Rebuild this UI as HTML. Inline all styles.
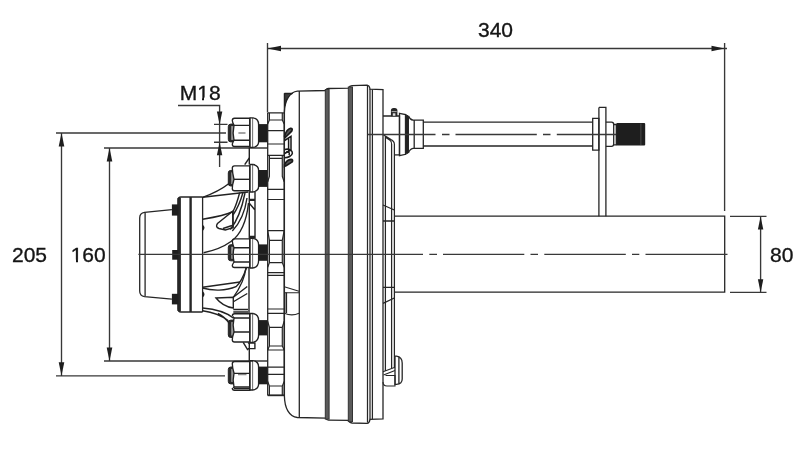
<!DOCTYPE html>
<html><head><meta charset="utf-8">
<style>
html,body{margin:0;padding:0;background:#fff;width:800px;height:450px;overflow:hidden}
svg{display:block;filter:grayscale(1)}
text{font-family:"Liberation Sans",sans-serif;fill:#151515;stroke:#151515;stroke-width:0.35px}
</style></head><body>
<svg width="800" height="450" viewBox="0 0 800 450">
<defs>
  </defs>
<rect width="800" height="450" fill="#fff"/>

<g id="dims" stroke="#383838" stroke-width="1.35" fill="none">
  <path d="M267.5 43V112.5M724.6 43V211M267.5 48.5H727"/>
  <path d="M56 133H226M56 375.8H225M61.5 133V375.8"/>
  <path d="M104 148H267.5M104 361H267.7M109.5 148V361"/>
  <path d="M730 216.4H766.5M730 292.4H766.5M760.6 216.4V292.4"/>
  <path d="M178 105.5H219.6V167M214 124.4H227.5M214 142.2H227.5"/>
</g>
<g id="arrows" fill="#1e1e1e" stroke="none">
  <path d="M267.5 48.5L281 45.8L281 51.2Z"/>
  <path d="M724.6 48.5L711.5 45.8L711.5 51.2Z"/>
  <path d="M61.5 133L58.7 146.5L64.3 146.5Z"/>
  <path d="M61.5 375.8L58.7 362.3L64.3 362.3Z"/>
  <path d="M109.5 148L106.7 161.5L112.3 161.5Z"/>
  <path d="M109.5 361L106.7 347.5L112.3 347.5Z"/>
  <path d="M760.6 216.4L757.9 229.5L763.3 229.5Z"/>
  <path d="M760.6 292.4L757.9 279.3L763.3 279.3Z"/>
  <path d="M219.6 124.4L216.9 111.5L222.3 111.5Z"/>
  <path d="M219.6 142.2L216.9 155.2L222.3 155.2Z"/>
</g>
<g id="texts" font-size="21">
  <text x="478" y="37.2">340</text>
  <text x="12" y="262">205</text>
  <text x="70.7" y="262">160</text>
  <text x="770" y="262.3">80</text>
  <text x="179.8" y="99.9">M18</text>
</g>
<g fill="#fff" stroke="none">
  <rect x="197" y="97.6" width="5" height="3.6"/>
  <rect x="204" y="97.6" width="5.5" height="3.6"/>
  <rect x="70.5" y="259.6" width="5.5" height="3.6"/>
  <rect x="78" y="259.6" width="5.5" height="3.6"/>
</g>

<g id="tube" stroke="#262626" stroke-width="1.3" fill="none">
  <path d="M394.5 216.2H724.7V292.2H394.5"/>
</g>

<g id="drum" stroke="#262626" stroke-width="1.3" fill="none">
  <path d="M284.4 93.3 V396 M284.4 93.3 H292.5"/>
  <path d="M284.4 112 C284.8 100 290 92 297.4 91.1 L325.7 90.5 Q326.5 88.5 328.4 88.5 L348.6 88.2 Q349.5 85.8 352 85.6 L367 85.2 Q369.5 85.5 370 89.2 L383 89.7 V116"/>
  <path d="M284.4 396 C284.6 408 289 416.6 297.4 417.5 L325.7 418.1 Q326.5 420.1 328.4 420.1 L348.6 420.4 Q349.5 422.8 352 423 L367 423.4 Q369.5 423.1 370 419.4 L383 418.9 V386"/>
  <path d="M284.6 93.6 H292.5 C289 94.8 286 98 285 105.5 Z" fill="#3a3a3a" stroke="#1e1e1e" stroke-width="1"/>
  <path d="M299.3 91.1 V417.5"/>
  <path d="M367.5 86 V422.6 M370 89 V419.6 M372.4 89.5 V419.1" stroke-width="1.25"/>
  <path d="M383 116 V386"/>
  <path d="M385.4 136 V371 M391.6 144 V368 M394.4 144 V367.5" stroke-width="1.25"/>
  <path d="M383 134.5 L391 139.5 Q394.4 141.5 394.4 144 M385.4 137.3 L390 140.3 Q391.6 141.5 391.6 144" stroke-width="1.1"/>
  <path d="M394.4 154.9 H399.5"/>
  <path d="M383 205 L394.3 210 M383 221 H394.3 M383 287.4 H394.3 M383 303.3 L394.3 298"/>
  <!-- bottom bolt -->
  <path d="M395 356.1 H396.5 Q402.2 357 402.2 363 V379 Q402.2 384 396.5 384.4 H395 Z M398.9 356.6 V384"/>
  <path d="M385.5 375.5 H395 V386 H387 Q383 386 383 382 M383 371.7 L395 367.2 M383.5 375 L395 370.5" stroke-width="1.1"/>
</g>
<g id="bands" fill="#5a5a5a" stroke="#333" stroke-width="1">
  <rect x="325.3" y="89.5" width="3.8" height="329.6"/>
  <rect x="348.3" y="87" width="4.2" height="334.6"/>
</g>

<g id="flange" stroke="#262626" stroke-width="1.3" fill="none">
  <path d="M267.7 112.9 V395.5 M284.2 112.9 V395.5"/>
  <path d="M267.7 112.9 H284.2 M269.4 112.9 V120 H282.3 V112.9 M269.4 120 L267.7 124 M282.3 120 L284.2 124 M267.7 130.7 H284.2 M267.7 144 H284.2" stroke-width="1.2"/>
  <path d="M267.7 155.3 H284.2 M269.4 155.3 V176.3 L267.7 181.8 M282.3 155.3 V176.3 L284.2 181.8 M269.4 158.3 H282.3 M267.7 189.4 H284.2 M267.7 199.5 H284.2" stroke-width="1.2"/>
  <path d="M267.7 230.7 H284.2 M267.7 230.7 L269.4 240.3 V262.7 L267.7 267.3 M284.2 230.7 L282.3 240.3 V262.7 L284.2 267.3 M269.4 240.3 H282.3 M269.4 262.7 H282.3 M267.7 272.7 H284.2 M267.7 275.3 H284.2" stroke-width="1.2"/>
  <path d="M267.7 309 H284.2 M267.7 313.3 H284.2 M267.7 321.3 L269.4 327.3 V346 H282.3 V327.3 L284.2 321.3 M269.4 327.3 H282.3 M267.7 350 H284.2 M269.4 346 L267.7 350 M282.3 346 L284.2 350" stroke-width="1.2"/>
  <path d="M267.7 367.2 H284.2 M267.7 374.4 H284.2 M267.7 381.5 L269.4 386 V395.3 M282.3 395.3 V386 L284.2 381.5 M269.4 386 H282.3" stroke-width="1.2"/>
  <path d="M267.7 395.3 H284.2" stroke-width="1.8"/>
  <path d="M284.3 286.7 L299 291.3 M284.3 292.7 H299 M284.3 313.3 Q292 316.5 299 313.3" stroke-width="1.1"/>
  <path d="M286.3 292.5 V313" stroke-width="1.6"/>
</g>
<g id="clips" stroke="#1a1a1a" stroke-width="1.7" fill="none">
  <path d="M284.6 136 C286 131.5 288.5 128.8 290.5 128.3 Q293 128.2 291.8 131 C290.2 133 287.5 134.8 285 137.8 Z" fill="#555"/>
  <path d="M284.6 140.5 L291 136.3 V150 L284.6 153.5 M288.6 138 V151.5" stroke-width="1.5"/>
  <path d="M284.8 149.5 C289 148.3 292.6 150.3 292.4 153.2 C292.1 156 288 157.6 284.8 157.8 M286.4 151.8 C288.8 151.4 290 153 289 155.2" stroke-width="1.5"/>
  <path d="M284.6 164.5 C286 161.8 289 159.6 291 159.4 Q293.4 159.5 292.2 161.9 C290.4 163.4 287 164.8 284.6 166.4 Z" fill="#555"/>
</g>

<g id="nuts" stroke="#222" stroke-width="1.35" fill="none">
  <path d="M234.2 124.1 H230.8 Q228.3 124.1 228.3 126.6 V139.4 Q228.3 141.9 230.8 141.9 H234.2 Z" fill="#2a2a2a" stroke-width="1"/>
  <rect x="231.2" y="126.1" width="2.8" height="13.80" fill="#9a9a9a" stroke="none"/>
  <path d="M249.8 118.2 H234.5 Q232.3 118.2 232.3 120.5 Q232.3 121.80000000000001 234 125.4 Q232.3 132.8 234 140.2 Q232.3 143.35 232.3 144.2 Q232.3 146.5 234.5 146.5 H249.8 Z" fill="#fff"/>
  <path d="M234 125.4 H249.8 M234 140.2 H249.8"/>
  <path d="M249.8 117.8 V147.4 M253.1 117.8 V147.4 M249.8 117.8 H253.1 M249.8 147.4 H253.1"/>
  <path d="M253.1 117.8 Q258.6 118.8 258.6 124.39999999999999 V142.0 Q258.6 146.4 253.1 147.4" fill="#fff"/>
  <rect x="258.6" y="124.1" width="8.7" height="18.20" fill="#1e1e1e" stroke="none"/>
  <path d="M234.2 170.4 H230.8 Q228.3 170.4 228.3 172.9 V183.5 Q228.3 186.0 230.8 186.0 H234.2 Z" fill="#2a2a2a" stroke-width="1"/>
  <rect x="231.2" y="172.4" width="2.8" height="11.60" fill="#9a9a9a" stroke="none"/>
  <path d="M249.8 165.8 H234.5 Q232.3 165.8 232.3 168.10000000000002 Q232.3 172.55 234 179.3 Q232.3 185.0 232.3 188.39999999999998 Q232.3 190.7 234.5 190.7 H249.8 Z" fill="#fff"/>
  <path d="M234 179.3 H249.8"/>
  <path d="M249.8 164.5 V192.0 M253.1 164.5 V192.0 M249.8 164.5 H253.1 M249.8 192.0 H253.1"/>
  <path d="M253.1 164.5 Q258.6 165.5 258.6 170.3 V186.6 Q258.6 191.0 253.1 192.0" fill="#fff"/>
  <rect x="258.6" y="170.0" width="8.7" height="16.90" fill="#1e1e1e" stroke="none"/>
  <path d="M234.2 244.7 H230.8 Q228.3 244.7 228.3 247.2 V258.3 Q228.3 260.8 230.8 260.8 H234.2 Z" fill="#2a2a2a" stroke-width="1"/>
  <rect x="231.2" y="246.7" width="2.8" height="12.10" fill="#9a9a9a" stroke="none"/>
  <path d="M249.8 238.8 H234.5 Q232.3 238.8 232.3 241.10000000000002 Q232.3 243.25 234 247.7 Q232.3 254.85 234 262.0 Q232.3 264.75 232.3 265.2 Q232.3 267.5 234.5 267.5 H249.8 Z" fill="#fff"/>
  <path d="M234 247.7 H249.8 M234 262.0 H249.8"/>
  <path d="M249.8 238.3 V268.0 M253.1 238.3 V268.0 M249.8 238.3 H253.1 M249.8 268.0 H253.1"/>
  <path d="M253.1 238.3 Q258.6 239.3 258.6 244.70000000000002 V260.5 Q258.6 267.0 253.1 268.0" fill="#fff"/>
  <rect x="258.6" y="244.4" width="8.7" height="16.40" fill="#1e1e1e" stroke="none"/>
  <path d="M234.2 320.1 H230.8 Q228.3 320.1 228.3 322.6 V335.0 Q228.3 337.5 230.8 337.5 H234.2 Z" fill="#2a2a2a" stroke-width="1"/>
  <rect x="231.2" y="322.1" width="2.8" height="13.40" fill="#9a9a9a" stroke="none"/>
  <path d="M249.8 313.7 H234.5 Q232.3 313.7 232.3 316.0 Q232.3 315.85 234 318.0 Q232.3 325.0 234 332.0 Q232.3 337.0 232.3 339.7 Q232.3 342.0 234.5 342.0 H249.8 Z" fill="#fff"/>
  <path d="M234 318.0 H249.8 M234 332.0 H249.8"/>
  <path d="M249.8 313.5 V342.3 M253.1 313.5 V342.3 M249.8 313.5 H253.1 M249.8 342.3 H253.1"/>
  <path d="M253.1 313.5 Q258.6 314.5 258.6 320.40000000000003 V335.09999999999997 Q258.6 341.3 253.1 342.3" fill="#fff"/>
  <rect x="258.6" y="320.1" width="8.7" height="15.30" fill="#1e1e1e" stroke="none"/>
  <path d="M234.2 367.0 H230.8 Q228.3 367.0 228.3 369.5 V381.4 Q228.3 383.9 230.8 383.9 H234.2 Z" fill="#2a2a2a" stroke-width="1"/>
  <rect x="231.2" y="369.0" width="2.8" height="12.90" fill="#9a9a9a" stroke="none"/>
  <path d="M249.8 361.5 H234.5 Q232.3 361.5 232.3 363.8 Q232.3 367.4 234 373.3 Q232.3 380.1 234 386.9 Q232.3 388.54999999999995 232.3 387.9 Q232.3 390.2 234.5 390.2 H249.8 Z" fill="#fff"/>
  <path d="M234 373.3 H249.8 M234 386.9 H249.8"/>
  <path d="M249.8 360.6 V390.0 M253.1 360.6 V390.0 M249.8 360.6 H253.1 M249.8 390.0 H253.1"/>
  <path d="M253.1 360.6 Q258.6 361.6 258.6 366.90000000000003 V384.0 Q258.6 389.0 253.1 390.0" fill="#fff"/>
  <rect x="258.6" y="366.6" width="8.7" height="17.70" fill="#1e1e1e" stroke="none"/>
  <path d="M234 388.3 H249.8" stroke-width="1.8"/>
</g>

<g id="shaft" stroke="#262626" stroke-width="1.3" fill="none">
  <path d="M383 116 H399.5 V154.9"/>
  <path d="M399.5 113.3 L405.5 114.5 V154.3 L399.5 155.6 Z"/>
  <path d="M405.5 114.5 L408.5 116 V152.8 L405.5 154.3 Z" fill="#222" stroke-width="1"/>
  <path d="M408.5 116 Q410 119.8 413 120.2 H423.3 V148.4 H413 Q410 148.8 408.5 152.8 M414.2 120.2 V148.4"/>
  <path d="M423.3 122.2 H592.7 M423.3 146 H592.7"/>
  <path d="M592.7 118.3 H598.9 V150.2 H592.7 Z"/>
  <path d="M598.9 107.4 H605.9 V216.2 M598.9 107.4 V216.2"/>
  <path d="M605.9 122.2 H611.5 Q613.7 122.2 613.7 124.4 V144 Q613.7 146.3 611.5 146.3 H605.9"/>
  <path d="M613.7 124.5 H616.3 V144.8 H613.7"/>
</g>
<path d="M390.9 116.2 V110.5 Q390.9 108 393.5 108 H394.8 Q397.4 108 397.4 110.5 V116.2 Z" fill="#262626"/>
<path d="M391.6 111.6 H396.7" stroke="#bbb" stroke-width="0.9"/>
<rect x="392.8" y="113.3" width="2.6" height="2.5" fill="#ddd"/>
<rect x="616.3" y="123" width="28.9" height="22.5" rx="1" fill="#1e1e1e"/>
<path d="M640.9 123.5 V145" stroke="#555" stroke-width="0.8"/>

<g id="hubcap" stroke="#262626" stroke-width="1.3" fill="none">
  <path d="M171.9 209.6 L144.5 212.3 Q139.7 213 139.7 218 V291 Q139.7 296 144.5 296.6 L171.9 299.2"/>
  <path d="M145.1 212.5 V296.5"/>
  <path d="M202.6 197 H181 Q178 197 178 200 V309 Q178 312 181 312 H202.6" stroke-width="1.3"/>
  <path d="M179.2 198 V311" stroke-width="3.4"/>
  <path d="M190.6 197 V312" stroke-width="2.4"/>
  <path d="M202.6 197 V312"/>
</g>
<g fill="#1e1e1e">
  <rect x="171.9" y="204.4" width="6.5" height="11.2"/>
  <rect x="172.2" y="250" width="6" height="9.7"/>
  <rect x="171.9" y="293.8" width="6.5" height="10.6"/>
  <path d="M202.8 224.8 Q206.2 227.8 202.8 231 Z"/>
  <path d="M202.8 291.2 Q206.2 294.3 202.8 297.5 Z"/>
</g>

<g id="hub" stroke="#222" stroke-width="1.4" fill="none">
  <path d="M202.6 197.3 C212 194 222 189 229 183.5"/>
  <path d="M202.6 197.3 L248.3 192"/>
  <path d="M202.6 219.3 C216 217 228 214 233 211.5 C236 206 238 199 239.7 192.5"/>
  <path d="M232.7 211.3 L217.5 223.5 Q215 227 219 228.5 L225.3 230 L233 227.7 Z M223 228.5 L232 225.5"/>
  <path d="M233 211.3 V227.7"/>
  <path d="M243 192.5 C240 203 236.5 210 233 215"/>
  <path d="M245 193 C242 208 238 220 230.3 229.5"/>
  <path d="M247 198 C245 212 240 223 232.3 231"/>
  <path d="M248.5 203 C246.5 222 241.5 234 231 241.5 C222 248 212 251 203.6 252.7"/>
  <path d="M244.7 164.7 L249.3 158"/>
  <path d="M249.3 147.5 V164.5 M249.3 192 V238.5 M255 192 V238.5 M249.3 203.3 L255 210"/>
  <path d="M249.3 199.9 H255 M249.3 237 H255" stroke-width="2.4"/>
  <!-- bottom -->
  <path d="M202.6 287.3 L240 282"/>
  <path d="M202.6 288 C212 291 226 291 236 286.7 C241 283 244 275 246.7 267.3"/>
  <path d="M246 267.5 C245 276 241.5 286 233.3 297.3"/>
  <path d="M216 298 L233.3 297.3 V308 C226 307 220 303 216 298 Z"/>
  <path d="M233.3 297.3 L247.3 286.5 M233.8 301.5 L247.3 293.5 M233.3 309.5 H248 M233.3 312 H248"/>
  <path d="M202.6 308 C214 309 226 312 233.3 318 M202.6 310.7 C212 312 221 315 228.4 320.7 M218 313.5 C223 316 227 320 230 324"/>
  <path d="M249 267.5 V313 M249.3 342.4 V361 M243.2 342.4 L247.9 350.2 M247.9 343 H254.9 V348.6 H247.9"/>
</g>

<g id="center" stroke="#383838" stroke-width="1.3" fill="none">
  <path d="M138.4 254.4H423M429.3 254.4H437M443 254.4H524.3M530.5 254.4H538M544.3 254.4H625.8M632 254.4H639.3M645.5 254.4H727.5"/>
  <path d="M368 134.5 H435.5 M442 134.5 H449.5 M455.5 134.5 H536.8 M543 134.5 H550.5 M556.8 134.5 H616"/>
  <path d="M238.4 133 H245.5 M238 374.6 H246.5" stroke="#888"/>
</g>
</svg>
</body></html>
